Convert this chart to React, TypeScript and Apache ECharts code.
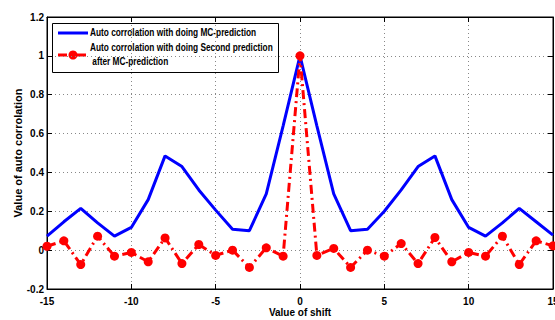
import React, { useEffect, useRef } from "react";
import * as echarts from "echarts";

const shifts = [-15, -14, -13, -12, -11, -10, -9, -8, -7, -6, -5, -4, -3, -2, -1, 0, 1, 2, 3, 4, 5, 6, 7, 8, 9, 10, 11, 12, 13, 14, 15];
const mcPrediction = [0.072, 0.146, 0.215, 0.14, 0.072, 0.117, 0.26, 0.485, 0.43, 0.31, 0.206, 0.108, 0.1, 0.29, 0.64, 1.0, 0.64, 0.29, 0.1, 0.108, 0.2, 0.31, 0.43, 0.485, 0.26, 0.117, 0.072, 0.14, 0.215, 0.146, 0.077];
const secondPrediction = [0.02, 0.048, -0.074, 0.072, -0.031, -0.012, -0.06, 0.063, -0.069, 0.029, -0.027, 0, -0.089, 0.012, -0.031, 1.0, -0.027, 0.009, -0.089, 0, -0.031, 0.034, -0.069, 0.065, -0.06, -0.012, -0.031, 0.072, -0.074, 0.048, 0.022];
const seriesNames = [
  "Auto corrolation with doing MC-prediction",
  "Auto corrolation with doing Second prediction\n after MC-prediction",
];
const xAxisName = "Value of shift";
const yAxisName = "Value of auto corrolation";

const FONT = "'Liberation Sans', Arial, sans-serif";
const BLUE = "#0000ff";
const RED = "#ff0000";
const DASHDOT = [9, 4, 2, 4];

export default function App() {
  const ref = useRef<HTMLDivElement>(null);
  useEffect(() => {
    if (!ref.current) return;
    const chart = echarts.init(ref.current, undefined, { renderer: "svg" });
    const splitLine = { show: true, lineStyle: { color: "#888", type: [1, 3] as any, width: 1 } };
    const tick = { show: true, inside: true, length: 5, lineStyle: { color: "#000" } };
    const axisLine = { show: true, onZero: false, lineStyle: { color: "#000" } };
    chart.setOption({
      animation: false,
      backgroundColor: "#fff",
      grid: {
        left: 47, right: 2, top: 17, bottom: 31,
        show: true, borderColor: "#000", borderWidth: 1,
        containLabel: false, outerBoundsMode: "none",
      },
      xAxis: [
        {
          type: "value", min: -15, max: 15, interval: 5,
          name: xAxisName, nameLocation: "middle", nameGap: 18, nameMoveOverlap: false,
          nameTextStyle: { fontFamily: FONT, fontWeight: "bold", fontSize: 10, color: "#000" },
          axisLine,
          axisTick: tick,
          axisLabel: { fontFamily: FONT, fontWeight: "bold", fontSize: 10, color: "#000", margin: 7 },
          splitLine,
        },
        {
          type: "value", min: -15, max: 15, interval: 5, position: "top",
          axisLine, axisTick: tick, axisLabel: { show: false }, splitLine: { show: false },
        },
      ],
      yAxis: [
        {
          type: "value", min: -0.2, max: 1.2, interval: 0.2,
          name: yAxisName, nameLocation: "middle", nameGap: 24, nameMoveOverlap: false,
          nameTextStyle: { fontFamily: FONT, fontWeight: "bold", fontSize: 11, color: "#000" },
          axisLine,
          axisTick: tick,
          axisLabel: {
            fontFamily: FONT, fontWeight: "bold", fontSize: 10, color: "#000", margin: 3,
            formatter: (v: number) => String(Math.round(v * 10) / 10),
          },
          splitLine,
        },
        {
          type: "value", min: -0.2, max: 1.2, interval: 0.2, position: "right",
          axisLine, axisTick: tick, axisLabel: { show: false }, splitLine: { show: false },
        },
      ],
      graphic: [
        {
          type: "group",
          z: 100,
          children: [
            {
              type: "rect",
              shape: { x: 52.5, y: 23.5, width: 226, height: 49 },
              style: { fill: "#fff", stroke: "#000", lineWidth: 1 },
            },
            {
              type: "line",
              shape: { x1: 58, y1: 33, x2: 88, y2: 33 },
              style: { stroke: BLUE, lineWidth: 3 },
            },
            {
              type: "line",
              shape: { x1: 58, y1: 55, x2: 88, y2: 55 },
              style: { stroke: RED, lineWidth: 3, lineDash: DASHDOT },
            },
            {
              type: "circle",
              shape: { cx: 73, cy: 55, r: 4.5 },
              style: { fill: RED },
            },
            {
              type: "text",
              x: 90, y: 33, scaleX: 0.83,
              style: {
                text: seriesNames[0], fill: "#000", font: "bold 10px 'Liberation Sans', Arial, sans-serif",
                verticalAlign: "middle", align: "left",
              },
            },
            {
              type: "text",
              x: 90, y: 55, scaleX: 0.83,
              style: {
                text: seriesNames[1], fill: "#000", font: "bold 10px 'Liberation Sans', Arial, sans-serif",
                verticalAlign: "middle", align: "left", lineHeight: 14,
              },
            },
          ],
        },
      ],
      series: [
        {
          name: seriesNames[0],
          type: "line",
          xAxisIndex: 0, yAxisIndex: 0,
          data: shifts.map((s, i) => [s, mcPrediction[i]]),
          symbol: "none",
          lineStyle: { color: BLUE, width: 3 },
          itemStyle: { color: BLUE },
        },
        {
          name: seriesNames[1],
          type: "line",
          xAxisIndex: 0, yAxisIndex: 0,
          data: shifts.map((s, i) => [s, secondPrediction[i]]),
          symbol: "circle",
          symbolSize: 9,
          lineStyle: { color: RED, width: 3, type: DASHDOT as any },
          itemStyle: { color: RED },
        },
      ],
    });
    return () => chart.dispose();
  }, []);
  return <div ref={ref} style={{ position: "absolute", left: 0, top: 0, width: 555, height: 320 }} />;
}
